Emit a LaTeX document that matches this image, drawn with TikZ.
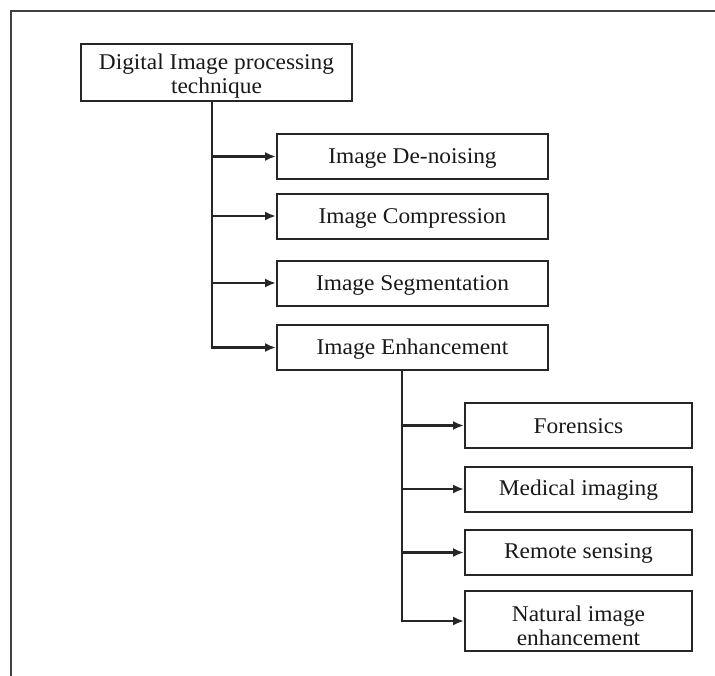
\documentclass[tikz,border=0pt]{standalone}
\usepackage{fontspec}
\setmainfont{Liberation Serif}[FakeStretch=1.04]
\usetikzlibrary{arrows.meta}
\tikzset{
  frameline/.style={line width=2.2pt, draw=black!75},
  box/.style={draw=black!85, line width=2pt, minimum height=45pt, inner sep=0pt,
    font=\fontsize{22.5}{24.5}\selectfont, align=center, text=black!90},
  link/.style={draw=black!85, line width=2.2pt},
  arr/.style={link, -{Latex[length=11pt,width=9pt]}}
}
\begin{document}
\begin{tikzpicture}[x=1pt,y=-1pt]
\useasboundingbox (0,0) rectangle (715,675);
\fill[white] (0,0) rectangle (715,675);
% frame
\coordinate (ftl) at (11,11);
\coordinate (ftr) at (716,11);
\coordinate (fbl) at (11,676);
\draw[frameline] (ftr) -- (ftl) -- (fbl);
% root
\node[box, minimum width=271pt, minimum height=57pt] (root) at (216.5,72.5) {\rule{0pt}{23pt}Digital Image processing\\technique};
% level 1
\node[box, minimum width=271pt] (dn) at (412.5,156.5) {\rule{0pt}{19pt}Image De-noising};
\node[box, minimum width=271pt] (cp) at (412.5,216) {\rule{0pt}{19pt}Image Compression};
\node[box, minimum width=271pt] (sg) at (412.5,283) {\rule{0pt}{19pt}Image Segmentation};
\node[box, minimum width=271pt] (en) at (412.5,347.5) {\rule{0pt}{19pt}Image Enhancement};
% level 2
\node[box, minimum width=227pt] (fo) at (578.5,425.5) {\rule{0pt}{17pt}Forensics};
\node[box, minimum width=227pt] (md) at (578.5,489) {\rule{0pt}{17pt}Medical imaging};
\node[box, minimum width=227pt] (rs) at (578.5,552.5) {\rule{0pt}{17pt}Remote sensing};
\node[box, minimum width=227pt, minimum height=60pt] (ni) at (578.5,621) {\rule{0pt}{25pt}Natural image\\enhancement};
% trunk 1
\coordinate (t1top) at (212,101);
\coordinate (t1a) at (212,156.5);
\coordinate (t1b) at (212,216);
\coordinate (t1c) at (212,283);
\coordinate (t1d) at (212,347.5);
\draw[link] (t1top) -- (t1d);
\draw[arr] (t1a) -- (dn.west);
\draw[arr] (t1b) -- (cp.west);
\draw[arr] (t1c) -- (sg.west);
\draw[arr] ([xshift=-1.1pt]t1d) -- (en.west);
% trunk 2
\coordinate (t2top) at (402,370);
\coordinate (t2a) at (402,425.5);
\coordinate (t2b) at (402,489);
\coordinate (t2c) at (402,552.5);
\coordinate (t2d) at (402,621);
\draw[link] (t2top) -- (t2d);
\draw[arr] (t2a) -- (fo.west);
\draw[arr] (t2b) -- (md.west);
\draw[arr] (t2c) -- (rs.west);
\draw[arr] ([xshift=-1.1pt]t2d) -- (ni.west);
\end{tikzpicture}
\end{document}
